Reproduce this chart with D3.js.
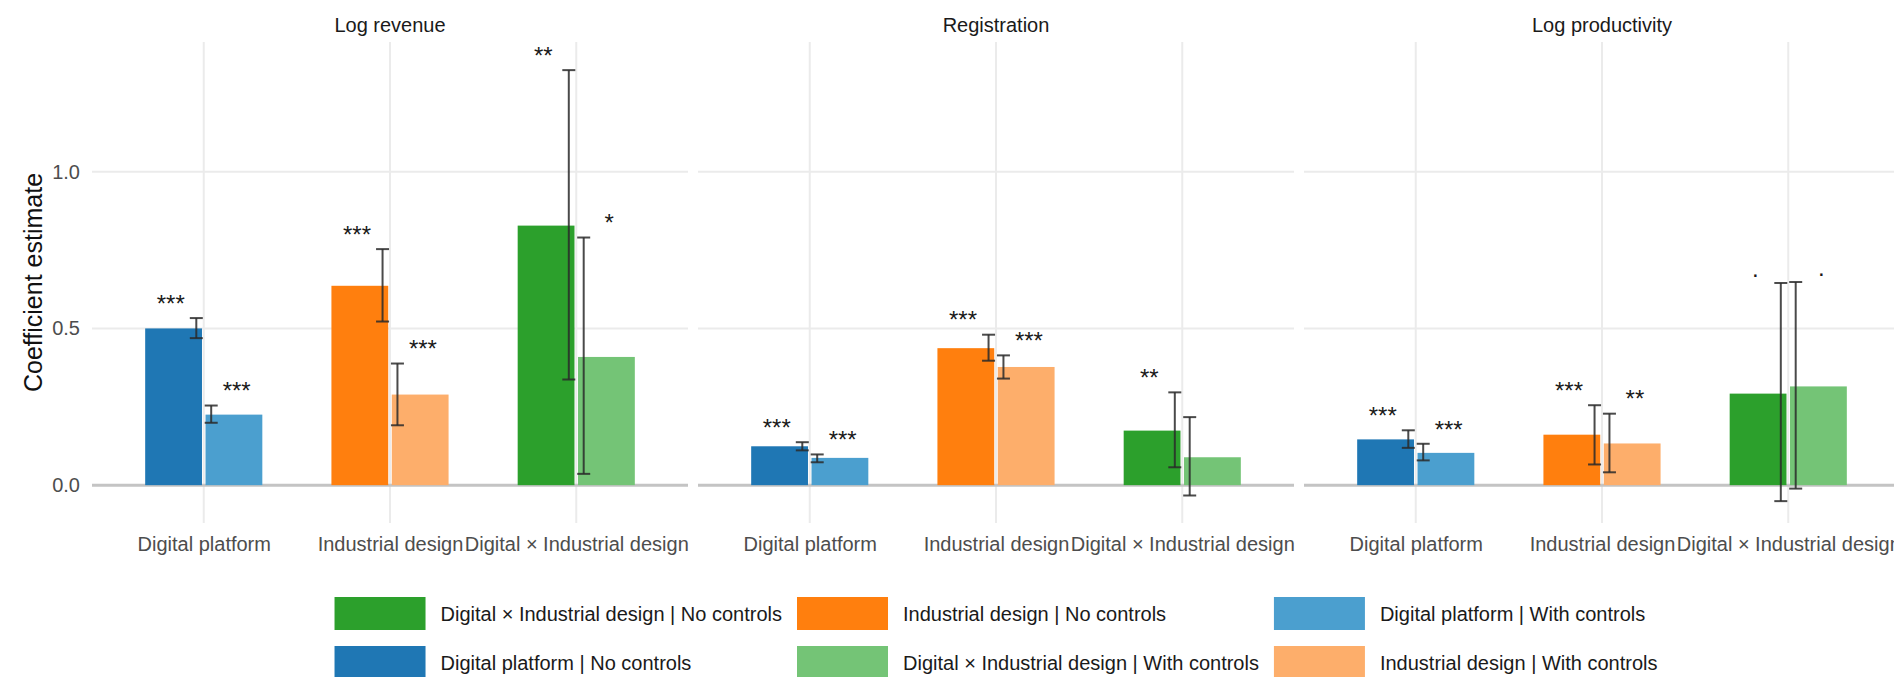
<!DOCTYPE html>
<html>
<head>
<meta charset="utf-8">
<script src="https://cdn.jsdelivr.net/npm/d3@7"></script>
<style>
  html, body { margin: 0; padding: 0; background: #fff; }
  svg { display: block; font-family: "Liberation Sans", Arial, Helvetica, sans-serif; }
</style>
</head>
<body>
<svg id="chart" width="1894" height="677"></svg>
<script>
// Regression coefficients by outcome (rows) and regressor (columns)
const outcomes   = ["Log revenue", "Registration", "Log productivity"];
const categories = ["Digital platform", "Industrial design", "Digital × Industrial design"];
const models     = ["No controls", "With controls"];

// Estimates, lower / upper 95% CI, and significance stars — no controls
const estNo   = [[0.500, 0.636, 0.828], [0.124, 0.437, 0.174], [0.146, 0.161, 0.292]];
const lowNo   = [[0.469, 0.522, 0.337], [0.111, 0.397, 0.057], [0.119, 0.066, -0.051]];
const highNo  = [[0.533, 0.753, 1.324], [0.137, 0.480, 0.296], [0.175, 0.255, 0.645]];
const starsNo = [["***", "***", "**"], ["***", "***", "**"], ["***", "***", "."]];

// Same, with controls
const estWith   = [[0.225, 0.289, 0.409], [0.087, 0.377, 0.089], [0.103, 0.133, 0.315]];
const lowWith   = [[0.199, 0.191, 0.036], [0.073, 0.340, -0.033], [0.079, 0.041, -0.011]];
const highWith  = [[0.254, 0.388, 0.790], [0.098, 0.414, 0.217], [0.132, 0.228, 0.648]];
const starsWith = [["***", "***", "*"], ["***", "***", ""], ["***", "**", "."]];

// Fill colours per regressor: darker for no controls, lighter with controls
const colorsNo   = ["#1f77b4", "#ff7f0e", "#2ca02c"];
const colorsWith = ["#4b9fcf", "#fdae6b", "#74c476"];

// Legend entries, listed column by column
const legendEntries = [
  "Digital × Industrial design | No controls",
  "Digital platform | No controls",
  "Industrial design | No controls",
  "Digital × Industrial design | With controls",
  "Digital platform | With controls",
  "Industrial design | With controls"
];
const yTicks = [0, 0.5, 1.0];

// ---------- build long-format records ----------
const records = [];
outcomes.forEach((o, oi) => {
  categories.forEach((c, ci) => {
    records.push({ outcome: o, category: c, model: models[0], est: estNo[oi][ci],
      lo: lowNo[oi][ci], hi: highNo[oi][ci], stars: starsNo[oi][ci], color: colorsNo[ci] });
    records.push({ outcome: o, category: c, model: models[1], est: estWith[oi][ci],
      lo: lowWith[oi][ci], hi: highWith[oi][ci], stars: starsWith[oi][ci], color: colorsWith[ci] });
  });
});
const colorOf = {};
records.forEach(r => { colorOf[r.category + " | " + r.model] = r.color; });

// ---------- layout ----------
const svg = d3.select("#chart");
const panelLeft = 92, panelTop = 42, panelW = 596, panelH = 481, panelGap = 10;
const starOffset = 0.02;

// y domain: data range (CIs and star anchors) expanded by 5%
const yMin = d3.min(records, d => Math.min(d.lo, d.est, 0));
const yMax = d3.max(records, d => d.hi + starOffset);
const pad = (yMax - yMin) * 0.05;
const y = d3.scaleLinear().domain([yMin - pad, yMax + pad]).range([panelTop + panelH, panelTop]);

const x = d3.scalePoint().domain(categories).range([0, panelW]).padding(0.6);
const step = x.step();
const barW = 0.305 * step;
const barOff = 0.162 * step;
const errOff = 0.04 * step;
const starOff = 0.177 * step;
const capHalf = 6.5;
const sign = m => (m === models[0] ? -1 : 1);

outcomes.forEach((o, oi) => {
  const px = panelLeft + oi * (panelW + panelGap);
  const g = svg.append("g").attr("transform", `translate(${px},0)`);
  const data = records.filter(r => r.outcome === o);

  // grid lines
  g.selectAll("line.hgrid").data(yTicks).join("line")
    .attr("x1", 0).attr("x2", panelW)
    .attr("y1", d => y(d)).attr("y2", d => y(d))
    .attr("stroke", "#ebebeb").attr("stroke-width", 2);
  g.selectAll("line.vgrid").data(categories).join("line")
    .attr("x1", d => x(d)).attr("x2", d => x(d))
    .attr("y1", panelTop).attr("y2", panelTop + panelH)
    .attr("stroke", "#ebebeb").attr("stroke-width", 2);

  // zero reference line
  g.append("line")
    .attr("x1", 0).attr("x2", panelW)
    .attr("y1", y(0)).attr("y2", y(0))
    .attr("stroke", "#c4c4c4").attr("stroke-width", 3);

  // bars
  g.selectAll("rect.bar").data(data).join("rect")
    .attr("x", d => x(d.category) + sign(d.model) * barOff - barW / 2)
    .attr("width", barW)
    .attr("y", d => y(Math.max(0, d.est)))
    .attr("height", d => Math.abs(y(d.est) - y(0)))
    .attr("fill", d => d.color);

  // error bars
  const eb = g.selectAll("g.err").data(data).join("g")
    .attr("transform", d => `translate(${x(d.category) + sign(d.model) * errOff},0)`)
    .attr("stroke", "#2a2a2a").attr("stroke-width", 2).attr("stroke-opacity", 0.85);
  eb.append("line").attr("x1", 0).attr("x2", 0)
    .attr("y1", d => y(d.lo)).attr("y2", d => y(d.hi));
  eb.append("line").attr("x1", -capHalf).attr("x2", capHalf)
    .attr("y1", d => y(d.lo)).attr("y2", d => y(d.lo));
  eb.append("line").attr("x1", -capHalf).attr("x2", capHalf)
    .attr("y1", d => y(d.hi)).attr("y2", d => y(d.hi));

  // significance markers
  g.selectAll("text.star").data(data.filter(d => d.stars)).join("text")
    .attr("x", d => x(d.category) + sign(d.model) * starOff)
    .attr("y", d => y(d.hi + starOffset))
    .attr("text-anchor", "middle")
    .attr("font-size", 24).attr("fill", "#1a1a1a")
    .text(d => d.stars);

  // panel title
  g.append("text")
    .attr("x", panelW / 2).attr("y", 32)
    .attr("text-anchor", "middle").attr("font-size", 20).attr("fill", "#1a1a1a")
    .text(o);

  // x axis labels
  const xa = g.append("g")
    .attr("transform", `translate(0,${panelTop + panelH})`)
    .call(d3.axisBottom(x).tickSize(0).tickPadding(14));
  xa.select(".domain").remove();
  xa.selectAll("text").attr("font-size", 20).attr("fill", "#4d4d4d")
    .attr("font-family", "Liberation Sans, Arial, sans-serif");

  // y axis labels on the first panel only
  if (oi === 0) {
    const ya = g.append("g")
      .call(d3.axisLeft(y).tickValues(yTicks).tickFormat(d3.format(".1f")).tickSize(0).tickPadding(12));
    ya.select(".domain").remove();
    ya.selectAll("text").attr("font-size", 20).attr("fill", "#4d4d4d")
      .attr("font-family", "Liberation Sans, Arial, sans-serif");
  }
});

// y axis title
svg.append("text")
  .attr("transform", `translate(42,${panelTop + panelH / 2}) rotate(-90)`)
  .attr("text-anchor", "middle").attr("font-size", 25).attr("fill", "#111")
  .text("Coefficient estimate");

// ---------- legend (2 rows, filled by column) ----------
const keyW = 91, keyH = 33, keyTextGap = 15, colGap = 15, rowStep = 49, legendTop = 597;
const nRows = 2, nCols = Math.ceil(legendEntries.length / nRows);
const legend = svg.append("g");
const items = legend.selectAll("g.item").data(legendEntries).join("g");
items.append("rect").attr("width", keyW).attr("height", keyH).attr("fill", d => colorOf[d]);
items.append("text")
  .attr("x", keyW + keyTextGap).attr("y", keyH / 2).attr("dy", "0.35em")
  .attr("font-size", 20).attr("fill", "#1a1a1a")
  .text(d => d);

const textW = [];
items.selectAll("text").each(function () { textW.push(this.getComputedTextLength()); });
const colWidths = d3.range(nCols).map(c =>
  keyW + keyTextGap + d3.max(d3.range(nRows).map(r => textW[c * nRows + r] || 0)));
const totalW = d3.sum(colWidths) + colGap * (nCols - 1);
const centerX = panelLeft + (3 * panelW + 2 * panelGap) / 2;
const startX = centerX - totalW / 2;
const colX = colWidths.map((w, c) => startX + d3.sum(colWidths.slice(0, c)) + c * colGap);
items.attr("transform", (d, i) => {
  const c = Math.floor(i / nRows), r = i % nRows;
  return `translate(${colX[c]},${legendTop + r * rowStep})`;
});
</script>
</body>
</html>
